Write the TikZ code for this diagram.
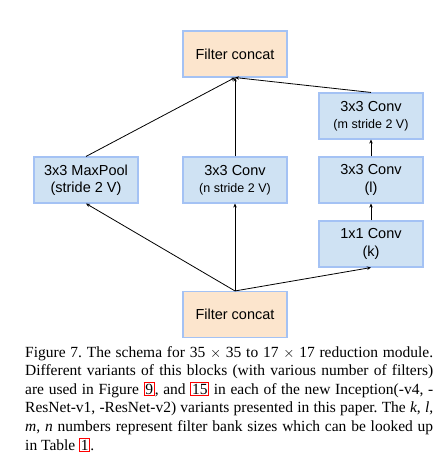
\documentclass[tikz,border=0pt]{standalone}
\usepackage{fontspec}
\setmainfont{Liberation Serif}
\setsansfont{Liberation Sans}
\usetikzlibrary{arrows.meta}
\definecolor{boxblue}{HTML}{CFE2F3}
\definecolor{boxorange}{HTML}{FCE5CD}
\definecolor{boxedge}{HTML}{A4C2F4}
\newcommand\rlink[1]{{\setlength\fboxsep{0.6pt}\setlength\fboxrule{1.1pt}\fcolorbox{red}{white}{#1}}}
\frenchspacing
\begin{document}
\begin{tikzpicture}[x=1pt,y=1pt,
  blk/.style={draw=boxedge,line width=1.1pt,minimum width=104pt,minimum height=46pt,
    align=center,inner sep=0pt,font=\sffamily\fontsize{14.5}{17.3}\selectfont},
  bluebox/.style={blk,fill=boxblue},
  orangebox/.style={blk,fill=boxorange},
  conn/.style={line width=0.8pt,-{Stealth[length=4pt,width=3.5pt]}}]
\useasboundingbox (0,0) rectangle (446,467);
\node[orangebox] (top) at (235,413) {Filter concat};
\node[bluebox] (pool) at (86,287) {3x3 MaxPool\\(stride 2 V)};
\node[bluebox] (mid) at (235,287) {3x3 Conv\\{\fontsize{12.5}{15}\selectfont(n stride 2 V)}};
\node[bluebox] (rt) at (371,351) {3x3 Conv\\{\fontsize{12.5}{15}\selectfont(m stride 2 V)}};
\node[bluebox] (rm) at (371,287) {3x3 Conv\\(l)};
\node[bluebox] (rb) at (371,223) {1x1 Conv\\(k)};
\node[orangebox] (bot) at (235,152.5) {Filter concat};
\draw[conn] (pool.north) -- (top.south);
\draw[conn] (mid.north) -- (top.south);
\draw[conn] (rt.north) -- (top.south);
\draw[conn] (rm.north) -- (rt.south);
\draw[conn] (rb.north) -- (rm.south);
\draw[conn] (bot.north) -- (pool.south);
\draw[conn] (bot.north) -- (mid.south);
\draw[conn] (bot.north) -- (rb.south);
\node[anchor=north west,text width=408pt,align=justify,inner sep=0pt,
  font=\fontsize{15.5}{18.6}\selectfont] (cap) at (25,121) {%
Figure 7. The schema for 35 $\times$ 35 to 17 $\times$ 17 reduction module.\linebreak
Different variants of this blocks (with various number of filters)\linebreak
are used in Figure~\rlink{9}, and \rlink{15} in each of the new Inception(-v4, -\linebreak
ResNet-v1, -ResNet-v2) variants presented in this paper. The \textit{k}, \textit{l},\linebreak
\textit{m}, \textit{n} numbers represent filter bank sizes which can be looked up\linebreak
in Table~\rlink{1}.};
\end{tikzpicture}
\end{document}
